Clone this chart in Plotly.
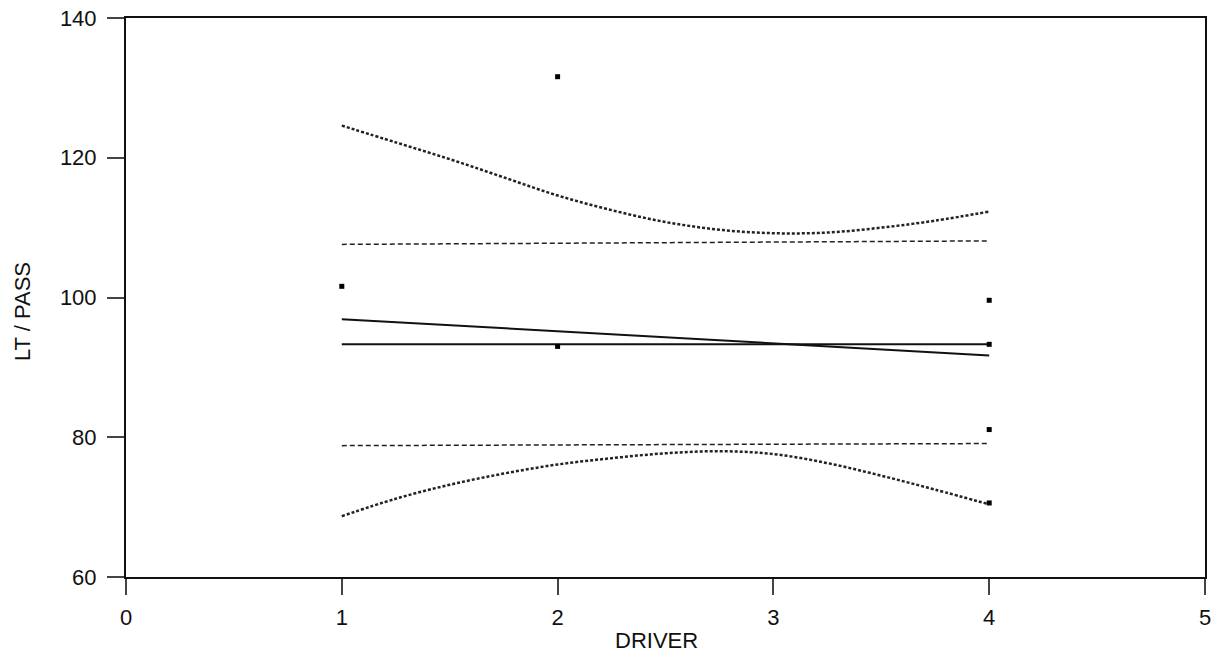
import plotly.graph_objects as go

# Observed data points
pt_x = [1, 2, 2, 4, 4, 4, 4]
pt_y = [101.6, 131.6, 93.0, 99.6, 93.3, 81.1, 70.6]

# Mean line
mean_x = [1, 4]
mean_y = [93.3, 93.3]

# Regression line
reg_x = [1, 4]
reg_y = [96.9, 91.7]

# Prediction limits (horizontal)
pred_x = [1, 4]
pred_hi = [107.6, 108.1]
pred_lo = [78.8, 79.1]

# Confidence band curves
band_x = [1, 1.25, 1.5, 1.75, 2, 2.25, 2.5, 2.75, 3, 3.25, 3.5, 3.75, 4]
band_hi = [124.6, 122.2, 119.8, 117.2, 114.6, 112.5, 110.8, 109.7, 109.2, 109.3, 110.0, 111.0, 112.3]
band_lo = [68.7, 71.2, 73.2, 74.8, 76.1, 77.0, 77.7, 78.0, 77.6, 76.3, 74.5, 72.5, 70.4]

x_ticks = [0, 1, 2, 3, 4, 5]
y_ticks = [60, 80, 100, 120, 140]

W, H = 1212, 657
ML, MR, MT, MB = 126, 7, 18, 80
PW, PH = W - ML - MR, H - MT - MB

fig = go.Figure()
band_style = dict(color="#222", width=2.5, dash="3px,2px")
hline_style = dict(color="#222", width=1.5, dash="5px,3px")

fig.add_trace(go.Scatter(x=band_x, y=band_hi, mode="lines", line=dict(band_style, shape="spline")))
fig.add_trace(go.Scatter(x=band_x, y=band_lo, mode="lines", line=dict(band_style, shape="spline")))
fig.add_trace(go.Scatter(x=pred_x, y=pred_hi, mode="lines", line=hline_style))
fig.add_trace(go.Scatter(x=pred_x, y=pred_lo, mode="lines", line=hline_style))
fig.add_trace(go.Scatter(x=mean_x, y=mean_y, mode="lines", line=dict(color="#111", width=2)))
fig.add_trace(go.Scatter(x=reg_x, y=reg_y, mode="lines", line=dict(color="#111", width=2)))
fig.add_trace(go.Scatter(x=pt_x, y=pt_y, mode="markers",
                         marker=dict(symbol="square", size=5, color="#000")))

font = dict(family="Liberation Sans, Arial, sans-serif", color="#111")
fig.update_layout(
    width=W, height=H,
    margin=dict(l=ML, r=MR, t=MT, b=MB),
    paper_bgcolor="white", plot_bgcolor="white",
    showlegend=False,
    font=font,
    xaxis=dict(range=[0, 5], tickvals=x_ticks, ticks="outside", ticklen=16, tickwidth=2,
               ticklabelstandoff=4,
               showline=True, linewidth=2, linecolor="#111", mirror=True, automargin=False,
               showgrid=False, zeroline=False, tickfont=dict(size=22)),
    yaxis=dict(range=[60, 140], tickvals=y_ticks, ticks="outside", ticklen=17, tickwidth=2,
               ticklabelstandoff=6,
               showline=True, linewidth=2, linecolor="#111", mirror=True, automargin=False,
               showgrid=False, zeroline=False, tickfont=dict(size=22)),
    annotations=[
        dict(text="DRIVER", x=(656 - ML) / PW, y=-(640 - (MT + PH)) / PH,
             xref="paper", yref="paper", xanchor="center", yanchor="middle",
             showarrow=False, font=dict(size=22)),
        dict(text="LT / PASS", x=(22 - ML) / PW, y=((MT + PH) - 312) / PH,
             xref="paper", yref="paper", xanchor="center", yanchor="middle",
             showarrow=False, font=dict(size=22), textangle=-90),
    ],
)

# remove the default 8px page margin so the figure fills the window exactly
fig.write_html("out.html", config={"displayModeBar": False},
               post_script="document.body.style.margin='0';document.body.style.overflow='hidden';")
